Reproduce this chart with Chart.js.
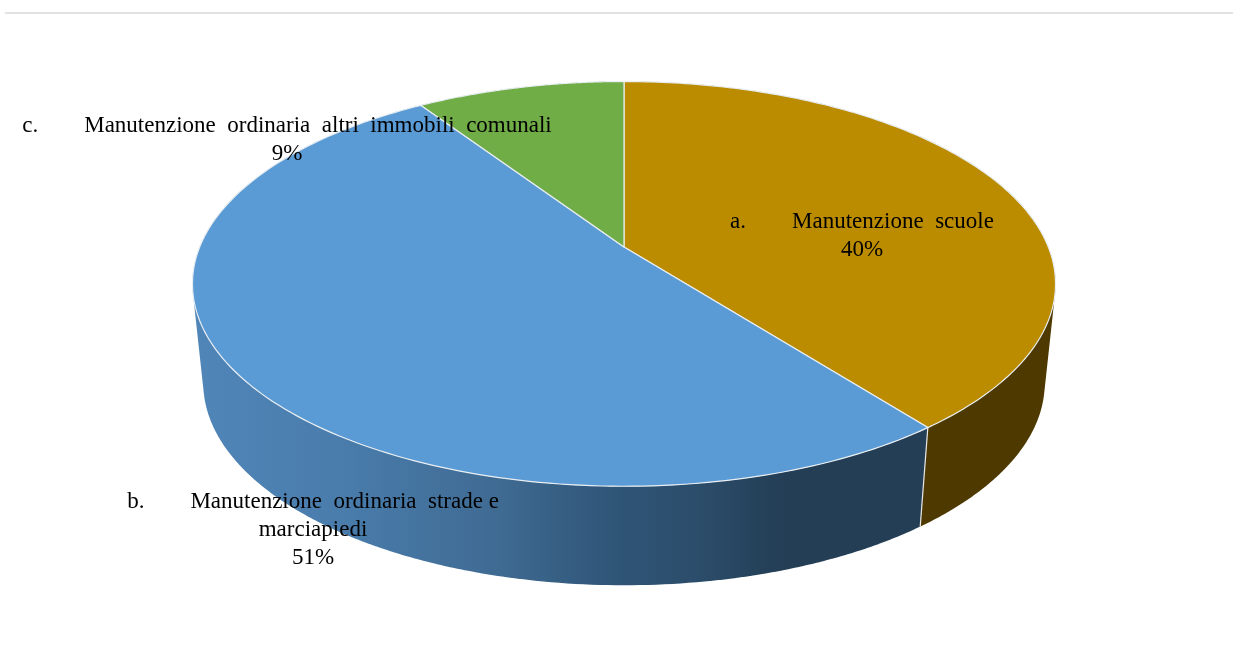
<!DOCTYPE html>
<html>
<head>
<meta charset="utf-8">
<style>
  body { margin: 0; background: #fff; }
  #rule { position: absolute; left: 5px; right: 0; top: 12px; height: 2px; background: #e2e2e2; }
  #chart { position: absolute; left: 0; top: 0; }
</style>
</head>
<body>
<canvas id="chart" width="1233" height="648"></canvas>
<div id="rule"></div>
<script src="https://cdn.jsdelivr.net/npm/chart.js@4/dist/chart.umd.min.js"></script>
<script>
// data
const categories = ['a. Manutenzione scuole', 'b. Manutenzione ordinaria strade e marciapiedi', 'c. Manutenzione ordinaria altri immobili comunali'];
const shares = [39.5, 51.2, 9.3];
const topColors = ['#bc8c00', '#5b9bd5', '#70ad47'];
const labelLines = [
    ['a.        Manutenzione  scuole'],
    ['b.        Manutenzione  ordinaria  strade e', 'marciapiedi'],
    ['c.        Manutenzione  ordinaria  altri  immobili  comunali']
];
const labelAnchors = [[862, 228], [313, 508], [287, 132]];

// perspective of the tilted pie, relative to the arc's own radius
const PERSP = -0.1823;
const SCALE_X = 1.722;
const SCALE_Y = 0.794;
const DEPTH = 99;
const BOTTOM_SHRINK = 0.975;
const LINE_HEIGHT = 28;

function project(arc, angle, lower) {
    const u = Math.cos(angle);
    const v = Math.sin(angle);
    const den = 1 + PERSP * v;
    const dx = SCALE_X * arc.outerRadius * u / den;
    const dy = SCALE_Y * arc.outerRadius * v / den;
    if (lower) return [arc.x + BOTTOM_SHRINK * dx, arc.y + dy + DEPTH];
    return [arc.x + dx, arc.y + dy];
}

function rim(ctx, arc, from, to) {
    const steps = 160;
    for (let s = 0; s <= steps; s++) {
        const p = project(arc, from + (to - from) * s / steps, false);
        ctx.lineTo(p[0], p[1]);
    }
}

function wallFill(ctx, index) {
    if (index === 0) return '#4e3a00';
    if (index === 2) return '#4a7330';
    const g = ctx.createLinearGradient(200, 0, 930, 0);
    g.addColorStop(0, '#5085b8');
    g.addColorStop(0.2, '#497cab');
    g.addColorStop(0.41, '#3f6a92');
    g.addColorStop(0.57, '#2f5577');
    g.addColorStop(0.68, '#2c4d6b');
    g.addColorStop(0.8, '#233e55');
    g.addColorStop(1, '#243e55');
    return g;
}

// side wall as one path of small quads, all wound the same way so they merge without seams
function drawWall(ctx, arc, index) {
    const steps = 200;
    ctx.beginPath();
    for (let s = 0; s < steps; s++) {
        const a0 = arc.startAngle + (arc.endAngle - arc.startAngle) * s / steps;
        const a1 = arc.startAngle + (arc.endAngle - arc.startAngle) * (s + 1) / steps + 0.001;
        const p = [project(arc, a0, false), project(arc, a1, false), project(arc, a1, true), project(arc, a0, true)];
        let area = 0;
        p.forEach((q, k) => {
            const r = p[(k + 1) % 4];
            area += q[0] * r[1] - r[0] * q[1];
        });
        if (area < 0) p.reverse();
        ctx.moveTo(p[0][0], p[0][1]);
        ctx.lineTo(p[1][0], p[1][1]);
        ctx.lineTo(p[2][0], p[2][1]);
        ctx.lineTo(p[3][0], p[3][1]);
        ctx.closePath();
    }
    ctx.fillStyle = wallFill(ctx, index);
    ctx.fill();
}

const pie3d = {
    id: 'pie3d',
    beforeDatasetDraw(chart, args) {
        const ctx = chart.ctx;
        const arcs = args.meta.data;
        ctx.save();
        ctx.lineJoin = 'round';

        // side wall first, the top covers whatever is behind
        arcs.forEach((arc, i) => drawWall(ctx, arc, i));

        // light edge between the blue and the gold wall
        const arc = arcs[1];
        const a = project(arc, arc.startAngle, false);
        const b = project(arc, arc.startAngle, true);
        ctx.strokeStyle = '#e8e8e8';
        ctx.lineWidth = 1.2;
        ctx.beginPath();
        ctx.moveTo(a[0], a[1]);
        ctx.lineTo(b[0], b[1]);
        ctx.stroke();

        arcs.forEach((arc) => {
            ctx.beginPath();
            ctx.moveTo(arc.x, arc.y);
            rim(ctx, arc, arc.startAngle, arc.endAngle);
            ctx.closePath();
            ctx.fillStyle = arc.options.backgroundColor;
            ctx.fill();
            ctx.strokeStyle = arc.options.borderColor;
            ctx.lineWidth = arc.options.borderWidth;
            ctx.stroke();
        });
        ctx.restore();
        return false;
    },
    afterDatasetsDraw(chart) {
        const ctx = chart.ctx;
        const total = shares.reduce((a, b) => a + b, 0);
        ctx.save();
        ctx.font = '23px "Liberation Serif"';
        ctx.fillStyle = '#000';
        ctx.textAlign = 'center';
        ctx.textBaseline = 'alphabetic';
        shares.forEach((v, i) => {
            const lines = labelLines[i].concat(Math.round(v / total * 100) + '%');
            lines.forEach((line, n) => {
                ctx.fillText(line, labelAnchors[i][0], labelAnchors[i][1] + n * LINE_HEIGHT);
            });
        });
        ctx.restore();
    }
};

new Chart(document.querySelector('#chart').getContext('2d'), {
    type: 'pie',
    data: {
        labels: categories,
        datasets: [{
            data: shares,
            backgroundColor: topColors,
            borderColor: '#e8eef2',
            borderWidth: 1.2
        }]
    },
    options: {
        responsive: false,
        animation: false,
        layout: { padding: { left: 15, bottom: 154 } },
        plugins: { legend: { display: false }, tooltip: { enabled: false } }
    },
    plugins: [pie3d]
});
</script>
</body>
</html>
